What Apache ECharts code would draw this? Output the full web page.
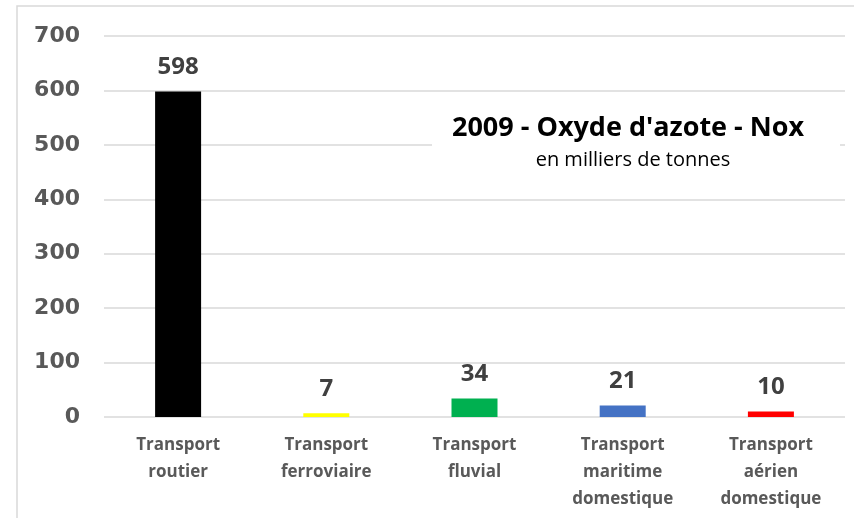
<!DOCTYPE html>
<html>
<head>
<meta charset="utf-8">
<script src="https://cdn.jsdelivr.net/npm/echarts@6/dist/echarts.min.js"></script>
<style>
  html, body { margin: 0; padding: 0; background: #fff; }
  #chart { width: 854px; height: 518px; }
</style>
</head>
<body>
<div id="chart"></div>
<script>
const categories = ['Transport\nroutier', 'Transport\nferroviaire', 'Transport\nfluvial', 'Transport\nmaritime\ndomestique', 'Transport\naérien\ndomestique'];
const values = [598, 7, 34, 21, 10];
const barColors = ['#000000', '#ffff00', '#00b050', '#4472c4', '#ff0000'];
const yTicks = [0, 100, 200, 300, 400, 500, 600, 700];

const chart = echarts.init(document.getElementById('chart'));

const option = {
    animation: false,
    grid: { left: 104, right: 9, top: 36, bottom: 101 },
    graphic: [
        {
            type: 'rect',
            shape: { x: 17, y: 6, width: 850, height: 520 },
            style: { fill: 'none', stroke: '#d9d9d9', lineWidth: 1.5 },
            silent: true
        },
        {
            type: 'rect',
            z: 50,
            shape: { x: 432, y: 108, width: 408, height: 86 },
            style: { fill: '#ffffff' },
            silent: true
        },
        {
            type: 'text',
            z: 51,
            x: 628, y: 128,
            style: {
                text: "2009 - Oxyde d'azote - Nox",
                font: 'bold 27px "Open Sans", sans-serif',
                fill: '#000',
                align: 'center', verticalAlign: 'middle'
            }
        },
        {
            type: 'text',
            z: 51,
            x: 633, y: 160,
            style: {
                text: 'en milliers de tonnes',
                font: '20px "Open Sans", sans-serif',
                fill: '#000',
                align: 'center', verticalAlign: 'middle'
            }
        }
    ],
    xAxis: {
        type: 'category',
        data: categories,
        axisLine: { show: false },
        axisTick: { show: false },
        axisLabel: {
            color: '#595959',
            fontWeight: 'bold',
            fontSize: 17,
            fontFamily: 'Open Sans',
            lineHeight: 27,
            margin: 15
        }
    },
    yAxis: {
        type: 'value',
        min: yTicks[0],
        max: yTicks[yTicks.length - 1],
        interval: 100,
        axisLine: { show: false },
        axisTick: { show: false },
        splitLine: { lineStyle: { color: '#d9d9d9', width: 1.5 } },
        axisLabel: {
            color: '#595959',
            fontWeight: 'bold',
            fontSize: 22,
            fontFamily: 'DejaVu Sans',
            margin: 24
        }
    },
    series: [{
        type: 'bar',
        barWidth: 46,
        data: values.map((v, i) => ({ value: v, itemStyle: { color: barColors[i] } })),
        label: {
            show: true,
            position: 'top',
            distance: 12,
            color: '#404040',
            fontWeight: 'bold',
            fontSize: 24,
            fontFamily: 'Open Sans'
        }
    }]
};

chart.setOption(option);
</script>
</body>
</html>
